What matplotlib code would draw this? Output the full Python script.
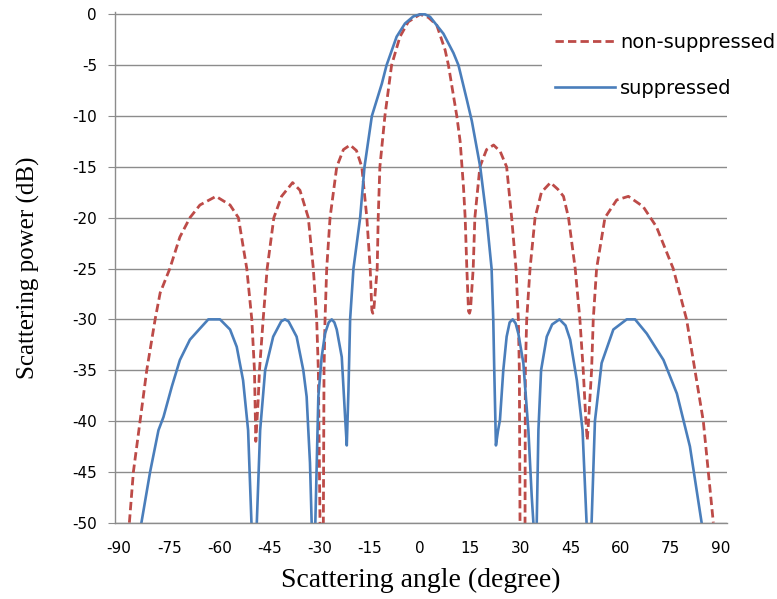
import matplotlib
matplotlib.use("Agg")
import matplotlib.pyplot as plt
from matplotlib.patches import Rectangle

# non-suppressed pattern (angle in degrees, power in dB)
ang_non = [-86.9, -85.7, -83.7, -81.7, -79.2, -77.7, -74.8, -71.8, -68.8, -65.8,
           -61.0, -56.8, -54.3, -51.8, -50.3, -49.5, -49.1, -48.4, -48.0, -46.9,
           -45.7, -43.7, -41.4, -38.1, -35.9, -33.4, -31.9, -30.9, -30.4, -29.9,
           -29.4, -28.9, -28.7, -28.4, -27.9, -26.9, -24.9, -22.9, -20.9, -19.0,
           -17.4, -15.9, -14.9, -14.4, -14.1, -13.8, -12.8, -12.5, -12.0, -10.5,
           -8.5, -6.0, -3.5, 0.0, 2.5, 5.0, 7.5, 8.5, 11.0, 12.0,
           13.0, 13.5, 14.0, 14.5, 14.8, 15.1, 15.9, 16.4, 17.9, 19.9,
           22.0, 24.0, 25.9, 27.4, 28.7, 29.4, 29.7, 29.9, 30.6, 31.4,
           31.5, 31.9, 32.9, 34.4, 36.3, 39.0, 41.2, 42.9, 44.4, 46.4,
           47.8, 48.8, 49.6, 50.0, 50.4, 51.3, 51.8, 52.8, 55.3, 58.8,
           62.3, 66.7, 70.7, 75.7, 79.7, 82.2, 84.7, 86.2, 87.7]
pow_non = [-50, -45, -40, -35, -30, -27.4, -25, -21.9, -20, -18.75,
           -17.9, -18.75, -20, -25, -30, -35, -42, -38, -35, -30,
           -25, -20, -17.9, -16.55, -17.3, -20, -25, -30, -35, -50,
           -58, -50, -35, -30, -25, -20, -15, -13.3, -12.85, -13.4,
           -15, -20, -25, -29.1, -29.4, -29, -25, -20, -15, -10,
           -5, -2.2, -0.73, 0, -0.3, -1.05, -3.5, -5, -10, -12.5,
           -17, -20, -25, -29.2, -29.4, -29, -25, -20, -15, -13.3,
           -12.85, -13.5, -15, -20, -25, -30, -35, -50, -58, -50,
           -35, -30, -25, -20, -17.5, -16.55, -17.2, -17.9, -20, -25,
           -30, -35, -40, -41.9, -40, -35, -30, -25, -20, -18.26,
           -17.9, -18.9, -20.9, -25, -30, -35, -40, -45, -50]

# suppressed pattern
ang_sup = [-83.3, -80.7, -78.2, -76.7, -74.2, -71.8, -68.8, -65.8, -63.3, -59.8,
           -56.8, -54.8, -52.9, -51.4, -50.4, -49.6, -48.8, -47.8, -46.3, -43.9,
           -41.5, -40.4, -39.3, -36.9, -34.9, -33.9, -33.4, -32.9, -32.4, -31.8,
           -31.3, -30.4, -29.4, -28.4, -27.3, -26.4, -25.6, -24.9, -23.4, -22.4,
           -21.9, -21.4, -20.9, -19.9, -17.9, -16.6, -14.4, -11.4, -10.0, -7.0,
           -4.5, -2.0, 0.0, 1.5, 3.0, 7.0, 10.0, 11.5, 14.0, 15.5,
           18.0, 19.9, 21.4, 21.9, 22.2, 22.7, 23.3, 23.9, 24.9, 25.9,
           26.8, 27.7, 28.6, 29.4, 30.9, 32.4, 33.4, 33.9, 34.4, 34.9,
           35.4, 36.2, 37.9, 39.5, 41.7, 43.5, 44.9, 46.9, 48.6, 49.8,
           50.5, 51.3, 52.3, 54.3, 57.8, 61.8, 64.3, 67.8, 72.8, 76.8,
           80.7, 84.2]
pow_sup = [-50, -45, -40.9, -39.6, -36.6, -34, -32, -30.9, -30, -30,
           -31, -32.7, -36, -40.9, -50, -56, -50, -40.9, -35, -31.7,
           -30.2, -30, -30.2, -31.7, -35, -37.6, -40.9, -44.1, -50, -55,
           -50, -37.6, -33.7, -31.4, -30.3, -30, -30.3, -31, -33.7, -39.6,
           -42.4, -37, -30, -25, -20, -15, -10, -6.8, -5, -2.2,
           -0.9, -0.2, 0, 0, -0.24, -1.9, -3.8, -5, -8.4, -10.5,
           -15, -20, -25, -30, -35, -42.4, -41, -39.9, -35, -31.7,
           -30.3, -30, -30.4, -31.4, -34.3, -40.9, -47.4, -50, -55, -50,
           -40.9, -35, -31.7, -30.5, -30, -30.6, -32, -36, -40.9, -50,
           -56, -50, -40, -34.3, -31, -30, -30, -31.4, -34, -37.3,
           -42.5, -50]

x_ticks = list(range(-90, 91, 15))
y_ticks = list(range(-50, 1, 5))

red = "#bd4b48"
blue = "#4a7ebb"
grey = "#8c8c8c"

plt.rcParams["axes.unicode_minus"] = False

fig = plt.figure(figsize=(7.77, 5.99), dpi=100)
ax = fig.add_axes([0.148, 0.1274, 0.7877, 0.852])

ax.plot(ang_non, pow_non, color=red, lw=2.0, ls=(0, (3, 1.5)), label="non-suppressed")
ax.plot(ang_sup, pow_sup, color=blue, lw=1.9, label="suppressed")

ax.set_xlim(-91.2, 91.8)
ax.set_ylim(-50, 0.2)
ax.set_xticks(x_ticks)
ax.set_yticks(y_ticks)
ax.yaxis.grid(True, color=grey, lw=1.0)
ax.set_axisbelow(True)

for s in ["top", "right"]:
    ax.spines[s].set_visible(False)
for s in ["left", "bottom"]:
    ax.spines[s].set_color(grey)
    ax.spines[s].set_linewidth(1.0)

ax.tick_params(axis="x", length=0, pad=13, labelsize=11)
ax.tick_params(axis="y", length=5, color=grey, pad=8, labelsize=11)

ax.set_xlabel("Scattering angle (degree)", family="Liberation Serif", fontsize=20, labelpad=9)
ax.set_ylabel("Scattering power (dB)", family="Liberation Serif", fontsize=18, labelpad=23)

# white area behind the legend, hides the top grid lines like in the original
fig.add_artist(Rectangle((0.6976, 0.825), 0.31, 0.18, transform=fig.transFigure,
                         facecolor="white", edgecolor="none", zorder=2))

leg = fig.legend(loc="upper left", bbox_to_anchor=(0.704, 0.958), fontsize=14,
                 frameon=False, handlelength=3.1, handletextpad=0.25, labelspacing=1.37,
                 borderpad=0.4, borderaxespad=0)
leg.set_zorder(3)

fig.savefig("out.png", dpi=100)
